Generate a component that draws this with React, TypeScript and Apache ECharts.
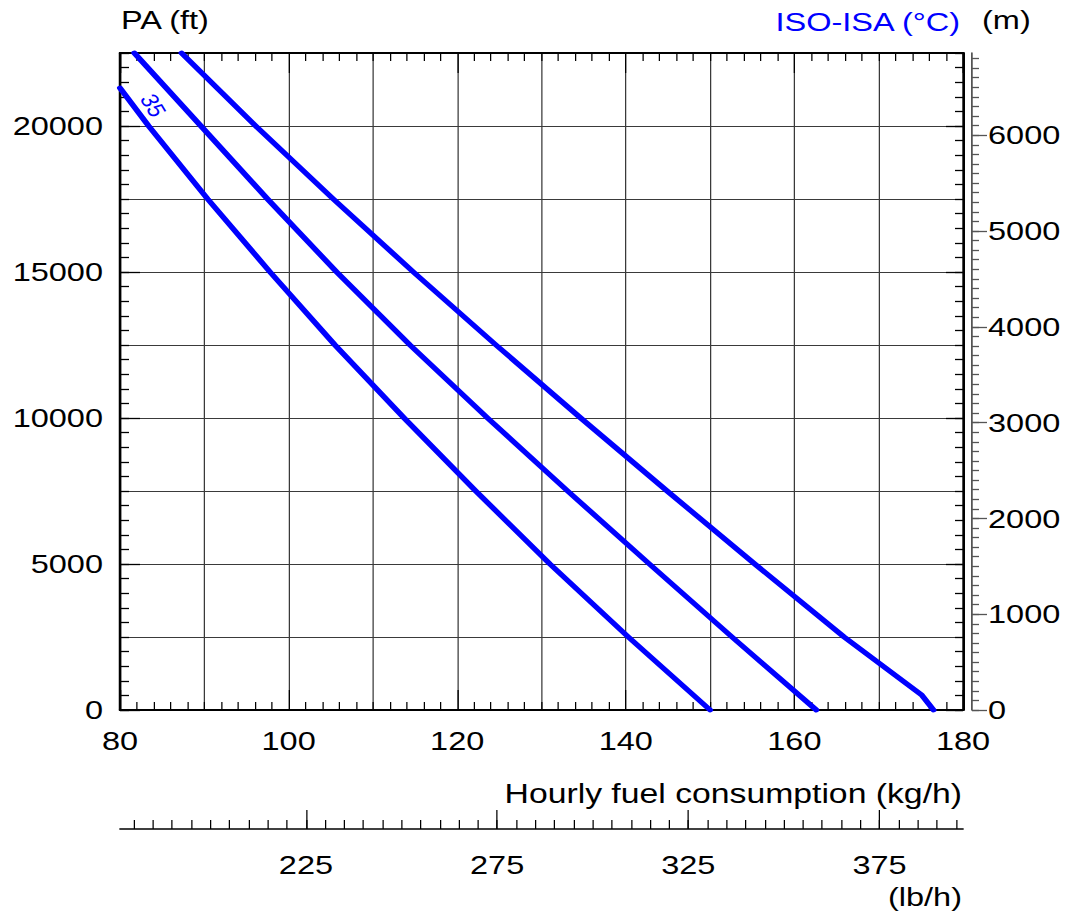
import React, { useEffect, useRef } from "react";
import * as echarts from "echarts";

// The reference is horizontally stretched; draw in a narrower space and stretch by CSS.
const STRETCH = 1.25;
const PAGE_W = 1070;
const PAGE_H = 913;
const CHART_W = PAGE_W / STRETCH;

const FONT = "'Liberation Sans', Arial, Helvetica, sans-serif";
const BLUE = "#0000ff";

const KG_TO_LB = 2.20462;
const FT_TO_M = 0.3048;

const kgMin = 80;
const kgMax = 180;
const ftMin = 0;
const ftMax = 22500;

// tick labels
const xLabels = [80, 100, 120, 140, 160, 180];
const yLabels = [0, 5000, 10000, 15000, 20000];
const mLabels = [0, 1000, 2000, 3000, 4000, 5000, 6000];
const lbLabels = [225, 275, 325, 375];
const lbMinorTicks = Array.from({ length: 44 }, (_, i) => 180 + i * 5);
const mMinorTicks = Array.from({ length: 69 }, (_, i) => i * 100);

// curves: [hourly fuel consumption (kg/h), pressure altitude (ft)]
const curve35 = [
  [80, 21300], [83.4, 20000], [90.4, 17500], [97.8, 15000], [105.5, 12500],
  [113.7, 10000], [122.2, 7500], [131.0, 5000], [140.3, 2500], [150, 0],
];
const curveMid = [
  [81.7, 22500], [89.6, 20000], [97.5, 17500], [105.7, 15000], [114.4, 12500],
  [123.6, 10000], [133.1, 7500], [142.8, 5000], [152.6, 2500], [162.6, 0],
];
const curveLow = [
  [87.3, 22500], [96.1, 20000], [105.3, 17500], [114.8, 15000], [124.6, 12500],
  [134.65, 10000], [144.9, 7500], [155.3, 5000], [165.9, 2500], [175.1, 514], [176.5, 0],
];
const label35 = { text: "35", coord: [83.9, 20700] };

const txt = (size: number, color = "#000") => ({
  fontFamily: FONT,
  fontSize: size,
  color,
});
const plain = (v: number) => String(Math.round(v));

const hidden = {
  axisLine: { show: false },
  axisTick: { show: false },
  axisLabel: { show: false },
  splitLine: { show: false },
};

export default function App() {
  const ref = useRef<HTMLDivElement>(null);

  useEffect(() => {
    document.body.style.margin = "0";
    if (!ref.current) return;
    const chart = echarts.init(ref.current, undefined, { renderer: "svg" });

    const lineSeries = (name: string, data: number[][], extra: any = {}) => ({
      name,
      type: "line",
      xAxisIndex: 0,
      yAxisIndex: 0,
      data,
      showSymbol: false,
      symbol: "none",
      clip: false,
      z: 5,
      lineStyle: { color: BLUE, width: 4.8, cap: "round", join: "round" },
      ...extra,
    });

    const frameX = (position: string, labels: boolean) => ({
      type: "value",
      position,
      min: kgMin,
      max: kgMax,
      interval: 20,
      z: 3,
      axisLine: { show: true, onZero: false, lineStyle: { color: "#000", width: 2 } },
      axisTick: { show: true, inside: true, length: 20, lineStyle: { color: "#000", width: 1 } },
      minorTick: { show: true, splitNumber: 10, length: 8, lineStyle: { color: "#000", width: 1 } },
      axisLabel: labels
        ? { show: true, margin: 18, customValues: xLabels, formatter: plain, ...txt(26) }
        : { show: false },
      splitLine: { show: false },
    });

    const frameY = (position: string, labels: boolean, major: number, minor: number) => [
      {
        type: "value",
        position,
        min: ftMin,
        max: ftMax,
        z: 3,
        axisLine: { show: true, onZero: false, lineStyle: { color: "#000", width: 2 } },
        axisTick: {
          show: true,
          inside: true,
          length: major,
          customValues: yLabels,
          lineStyle: { color: "#000", width: 1.3 },
        },
        axisLabel: labels
          ? { show: true, margin: 13.6, customValues: yLabels, formatter: plain, ...txt(26) }
          : { show: false },
        splitLine: { show: false },
      },
      {
        type: "value",
        position,
        min: ftMin,
        max: ftMax,
        interval: 500,
        z: 3,
        ...hidden,
        axisLine: { show: false, onZero: false },
        axisTick: { show: true, inside: true, length: minor, lineStyle: { color: "#000", width: 1.3 } },
      },
    ];

    const option: any = {
      animation: false,
      backgroundColor: "#ffffff",
      grid: {
        left: 120 / STRETCH,
        right: (PAGE_W - 963) / STRETCH,
        top: 53,
        bottom: PAGE_H - 710,
        containLabel: false,
        outerBoundsMode: "none",
      },
      xAxis: [
        frameX("bottom", true),
        frameX("top", false),
        {
          type: "value",
          min: kgMin,
          max: kgMax,
          interval: 10,
          z: 0,
          ...hidden,
          axisLine: { show: false, onZero: false },
          splitLine: { show: true, lineStyle: { color: "#3a3a3a", width: 1 } },
        },
        {
          type: "value",
          position: "bottom",
          offset: 119,
          min: kgMin * KG_TO_LB,
          max: kgMax * KG_TO_LB,
          z: 3,
          axisLine: { show: true, onZero: false, lineStyle: { color: "#000", width: 1.5 } },
          axisTick: {
            show: true,
            inside: true,
            length: 9,
            customValues: lbMinorTicks,
            lineStyle: { color: "#000", width: 1 },
          },
          axisLabel: { show: false },
          splitLine: { show: false },
        },
        {
          type: "value",
          position: "bottom",
          offset: 119,
          min: kgMin * KG_TO_LB,
          max: kgMax * KG_TO_LB,
          z: 3,
          axisLine: { show: false, onZero: false },
          axisTick: {
            show: true,
            inside: true,
            length: 19,
            customValues: lbLabels,
            lineStyle: { color: "#000", width: 1 },
          },
          axisLabel: { show: true, margin: 23, customValues: lbLabels, formatter: plain, ...txt(26) },
          splitLine: { show: false },
        },
      ],
      yAxis: [
        ...frameY("left", true, 16, 7.2),
        ...frameY("right", false, 13.6, 6.4),
        {
          type: "value",
          min: ftMin,
          max: ftMax,
          interval: 2500,
          z: 0,
          ...hidden,
          axisLine: { show: false, onZero: false },
          splitLine: { show: true, lineStyle: { color: "#3a3a3a", width: 1 } },
        },
        {
          type: "value",
          position: "right",
          offset: 9 / STRETCH,
          min: ftMin * FT_TO_M,
          max: ftMax * FT_TO_M,
          z: 3,
          axisLine: { show: true, onZero: false, lineStyle: { color: "#555", width: 1.4 } },
          axisTick: {
            show: true,
            inside: false,
            length: 12,
            customValues: mLabels,
            lineStyle: { color: "#555", width: 1.3 },
          },
          axisLabel: { show: true, margin: 12.8, customValues: mLabels, formatter: plain, ...txt(26) },
          splitLine: { show: false },
        },
        {
          type: "value",
          position: "right",
          offset: 9 / STRETCH,
          min: ftMin * FT_TO_M,
          max: ftMax * FT_TO_M,
          z: 3,
          axisLine: { show: false, onZero: false },
          axisTick: {
            show: true,
            inside: false,
            length: 5.6,
            customValues: mMinorTicks,
            lineStyle: { color: "#555", width: 1.3 },
          },
          axisLabel: { show: false },
          splitLine: { show: false },
        },
      ],
      series: [
        lineSeries("ISA +35", curve35, {
          markPoint: {
            symbol: "circle",
            symbolSize: 1,
            itemStyle: { color: "rgba(0,0,0,0)" },
            label: {
              show: true,
              position: "inside",
              formatter: label35.text,
              rotate: -64,
              ...txt(20, BLUE),
            },
            data: [{ coord: label35.coord }],
          },
        }),
        lineSeries("ISA curve 2", curveMid),
        lineSeries("ISA curve 3", curveLow),
      ],
      graphic: [
        {
          type: "text",
          x: 121 / STRETCH,
          y: 20,
          style: { text: "PA (ft)", fill: "#000", font: `26px ${FONT}`, align: "left", verticalAlign: "middle" },
        },
        {
          type: "text",
          x: 960 / STRETCH,
          y: 22,
          style: { text: "ISO-ISA (°C)", fill: BLUE, font: `26px ${FONT}`, align: "right", verticalAlign: "middle" },
        },
        {
          type: "text",
          x: 982 / STRETCH,
          y: 20,
          style: { text: "(m)", fill: "#000", font: `26px ${FONT}`, align: "left", verticalAlign: "middle" },
        },
        {
          type: "text",
          x: 962 / STRETCH,
          y: 793,
          style: {
            text: "Hourly fuel consumption (kg/h)",
            fill: "#000",
            font: `27px ${FONT}`,
            align: "right",
            verticalAlign: "middle",
          },
        },
        {
          type: "text",
          x: 962 / STRETCH,
          y: 897,
          style: { text: "(lb/h)", fill: "#000", font: `26px ${FONT}`, align: "right", verticalAlign: "middle" },
        },
      ],
    };

    chart.setOption(option);
    return () => chart.dispose();
  }, []);

  return (
    <div
      ref={ref}
      style={{
        width: CHART_W,
        height: PAGE_H,
        transform: `scaleX(${STRETCH})`,
        transformOrigin: "0 0",
        background: "#fff",
      }}
    />
  );
}
